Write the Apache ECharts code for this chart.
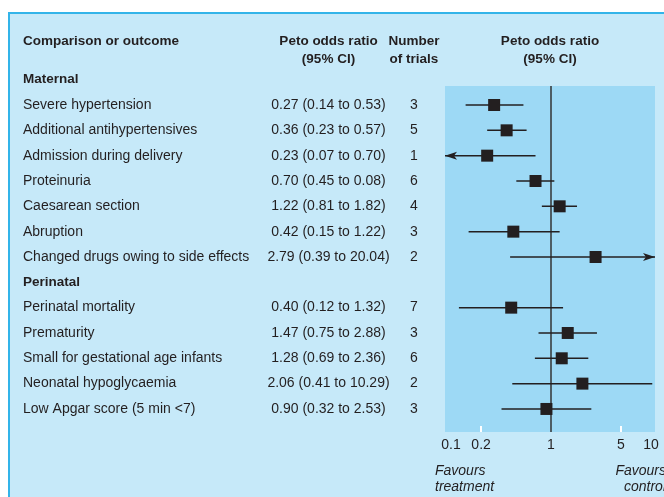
<!DOCTYPE html>
<html><head><meta charset="utf-8">
<script src="https://cdn.jsdelivr.net/npm/echarts@6/dist/echarts.min.js"></script>
<style>
html,body{margin:0;padding:0;background:#fff;overflow:hidden;}
#panel{position:absolute;left:8px;top:12px;width:700px;height:520px;background:#c6e9f9;border-top:2px solid #33b4e9;border-left:2px solid #33b4e9;box-sizing:border-box;}
#chart{position:absolute;left:0;top:0;width:664px;height:497px;}
</style></head><body>
<div id="panel"></div><div id="chart"></div>
<script>
// ---- data ----
const categories = ['Maternal', 'Severe hypertension', 'Additional antihypertensives', 'Admission during delivery', 'Proteinuria', 'Caesarean section', 'Abruption', 'Changed drugs owing to side effects', 'Perinatal', 'Perinatal mortality', 'Prematurity', 'Small for gestational age infants', 'Neonatal hypoglycaemia', 'Low Apgar score (5 min <7)'];
const headerRows = ['Maternal', 'Perinatal'];
const oddsRatio = [null, 0.27, 0.36, 0.23, 0.70, 1.22, 0.42, 2.79, null, 0.40, 1.47, 1.28, 2.06, 0.90];
const ciLower   = [null, 0.14, 0.23, 0.07, 0.45, 0.81, 0.15, 0.39, null, 0.12, 0.75, 0.69, 0.41, 0.32];
const ciUpper   = [null, 0.53, 0.57, 0.70, 1.08, 1.82, 1.22, 20.04, null, 1.32, 2.88, 2.36, 10.29, 2.53];
const ciLabels  = ['', '0.27 (0.14 to 0.53)', '0.36 (0.23 to 0.57)', '0.23 (0.07 to 0.70)', '0.70 (0.45 to 0.08)', '1.22 (0.81 to 1.82)', '0.42 (0.15 to 1.22)', '2.79 (0.39 to 20.04)', '', '0.40 (0.12 to 1.32)', '1.47 (0.75 to 2.88)', '1.28 (0.69 to 2.36)', '2.06 (0.41 to 10.29)', '0.90 (0.32 to 2.53)'];
const trials    = [null, 3, 5, 1, 6, 4, 3, 2, null, 7, 3, 6, 2, 3];
const xTickValues = [0.1, 0.2, 1, 5, 10];
const xTickLabels = ['0.1', '0.2', '1', '5', '10'];
const xMarkTicks  = [0.2, 5];

// ---- layout / style ----
const FONT = '"Liberation Sans", Arial, Helvetica, sans-serif';
const TEXT = '#231f20';
const X_MIN = 0.0871, X_MAX = 10.96;
const ROW_H = 25.33, ROW0_Y = 79.67;
const PLOT = {left: 445, top: 86, width: 210, height: 346};
const Y_MIN = (PLOT.top - ROW0_Y) / ROW_H;
const Y_MAX = (PLOT.top + PLOT.height - ROW0_Y) / ROW_H;
const FS = 14, FSB = 13.5;

const chart = echarts.init(document.getElementById('chart'), null, {renderer: 'canvas'});

const ciData = [];
const orData = [];
categories.forEach((c, i) => {
  if (oddsRatio[i] != null) {
    ciData.push([ciLower[i], ciUpper[i], i]);
    orData.push([oddsRatio[i], i]);
  }
});

function textCol(margin, align, fmt) {
  return {
    gridIndex: 0, type: 'category', inverse: true, data: categories, position: 'left', offset: 0,
    axisLine: {show: false}, axisTick: {show: false}, splitLine: {show: false},
    axisLabel: {
      interval: 0, align: align, margin: margin, color: TEXT, fontFamily: FONT, fontSize: FS,
      formatter: fmt,
      rich: {h: {fontWeight: 'bold', fontFamily: FONT, fontSize: FSB, color: TEXT}}
    }
  };
}

function tickLabel(v) {
  let best = 0, bd = Infinity;
  xTickValues.forEach((t, i) => { const d = Math.abs(Math.log10(t) - v); if (d < bd) { bd = d; best = i; } });
  return xTickLabels[best];
}

function hdr(text, x, y, align, bold, italic) {
  return {
    type: 'text', x: x, y: y, silent: true,
    style: {
      text: text, align: align, verticalAlign: 'top', fill: TEXT,
      fontFamily: FONT, fontSize: bold ? FSB : FS, fontWeight: bold ? 'bold' : 'normal',
      fontStyle: italic ? 'italic' : 'normal', lineHeight: bold ? 18 : 16
    }
  };
}

const option = {
  animation: false,
  backgroundColor: 'transparent',
  grid: [
    {left: PLOT.left, width: PLOT.width, top: ROW0_Y - ROW_H / 2, height: ROW_H * categories.length, show: false},
    {left: PLOT.left, width: PLOT.width, top: PLOT.top, height: PLOT.height, show: true, backgroundColor: '#9dd9f5', borderWidth: 0}
  ],
  xAxis: [
    {gridIndex: 0, type: 'value', show: false},
    {gridIndex: 1, type: 'log', logBase: 10, min: X_MIN, max: X_MAX, show: false},
    {gridIndex: 1, type: 'value', min: Math.log10(X_MIN), max: Math.log10(X_MAX), position: 'bottom',
      axisLine: {show: false}, splitLine: {show: false},
      axisTick: {show: true, inside: true, length: 6, lineStyle: {color: '#ffffff', width: 2}, customValues: xMarkTicks.map(Math.log10)},
      axisLabel: {customValues: xTickValues.map(Math.log10), formatter: tickLabel, margin: 6, color: TEXT, fontFamily: FONT, fontSize: FS}
    }
  ],
  yAxis: [
    textCol(PLOT.left - 23, 'left', (v, i) => headerRows.indexOf(v) >= 0 ? '{h|' + v + '}' : v),
    textCol(PLOT.left - 328.5, 'center', (v, i) => ciLabels[i]),
    textCol(PLOT.left - 414, 'center', (v, i) => trials[i] == null ? '' : String(trials[i])),
    {gridIndex: 1, type: 'value', inverse: true, min: Y_MIN, max: Y_MAX, show: false, position: 'left'}
  ],
  graphic: [
    hdr('Comparison or outcome', 23, 32, 'left', true),
    hdr('Peto odds ratio\n(95% CI)', 328.5, 32, 'center', true),
    hdr('Number\nof trials', 414, 32, 'center', true),
    hdr('Peto odds ratio\n(95% CI)', 550, 32, 'center', true),
    hdr('Favours\ntreatment', 435, 463, 'left', false, true),
    hdr('Favours\ncontrol', 666, 463, 'right', false, true)
  ],
  series: [
    {
      type: 'custom', xAxisIndex: 1, yAxisIndex: 3, data: ciData, clip: false, z: 2,
      encode: {x: [0, 1], y: 2},
      renderItem: function (params, api) {
        const lo = api.value(0), hi = api.value(1), row = api.value(2);
        const p1 = api.coord([Math.max(lo, X_MIN), row]);
        const p2 = api.coord([Math.min(hi, X_MAX), row]);
        const children = [{type: 'line', shape: {x1: p1[0], y1: p1[1], x2: p2[0], y2: p2[1]}, style: {stroke: TEXT, lineWidth: 1.5}}];
        if (lo < X_MIN) {
          children.push({type: 'polygon', shape: {points: [[p1[0], p1[1]], [p1[0] + 12, p1[1] - 4], [p1[0] + 9, p1[1]], [p1[0] + 12, p1[1] + 4]]}, style: {fill: TEXT}});
        }
        if (hi > X_MAX) {
          children.push({type: 'polygon', shape: {points: [[p2[0], p2[1]], [p2[0] - 12, p2[1] - 4], [p2[0] - 9, p2[1]], [p2[0] - 12, p2[1] + 4]]}, style: {fill: TEXT}});
        }
        return {type: 'group', children: children};
      }
    },
    {
      type: 'scatter', xAxisIndex: 1, yAxisIndex: 3, data: orData, symbol: 'rect', symbolSize: 12, z: 3,
      itemStyle: {color: TEXT, opacity: 1},
      markLine: {silent: true, symbol: 'none', label: {show: false}, z: 1,
        lineStyle: {color: '#333333', width: 1.5, type: 'solid'}, data: [{xAxis: 1}]}
    }
  ]
};
chart.setOption(option);
</script>
</body></html>
